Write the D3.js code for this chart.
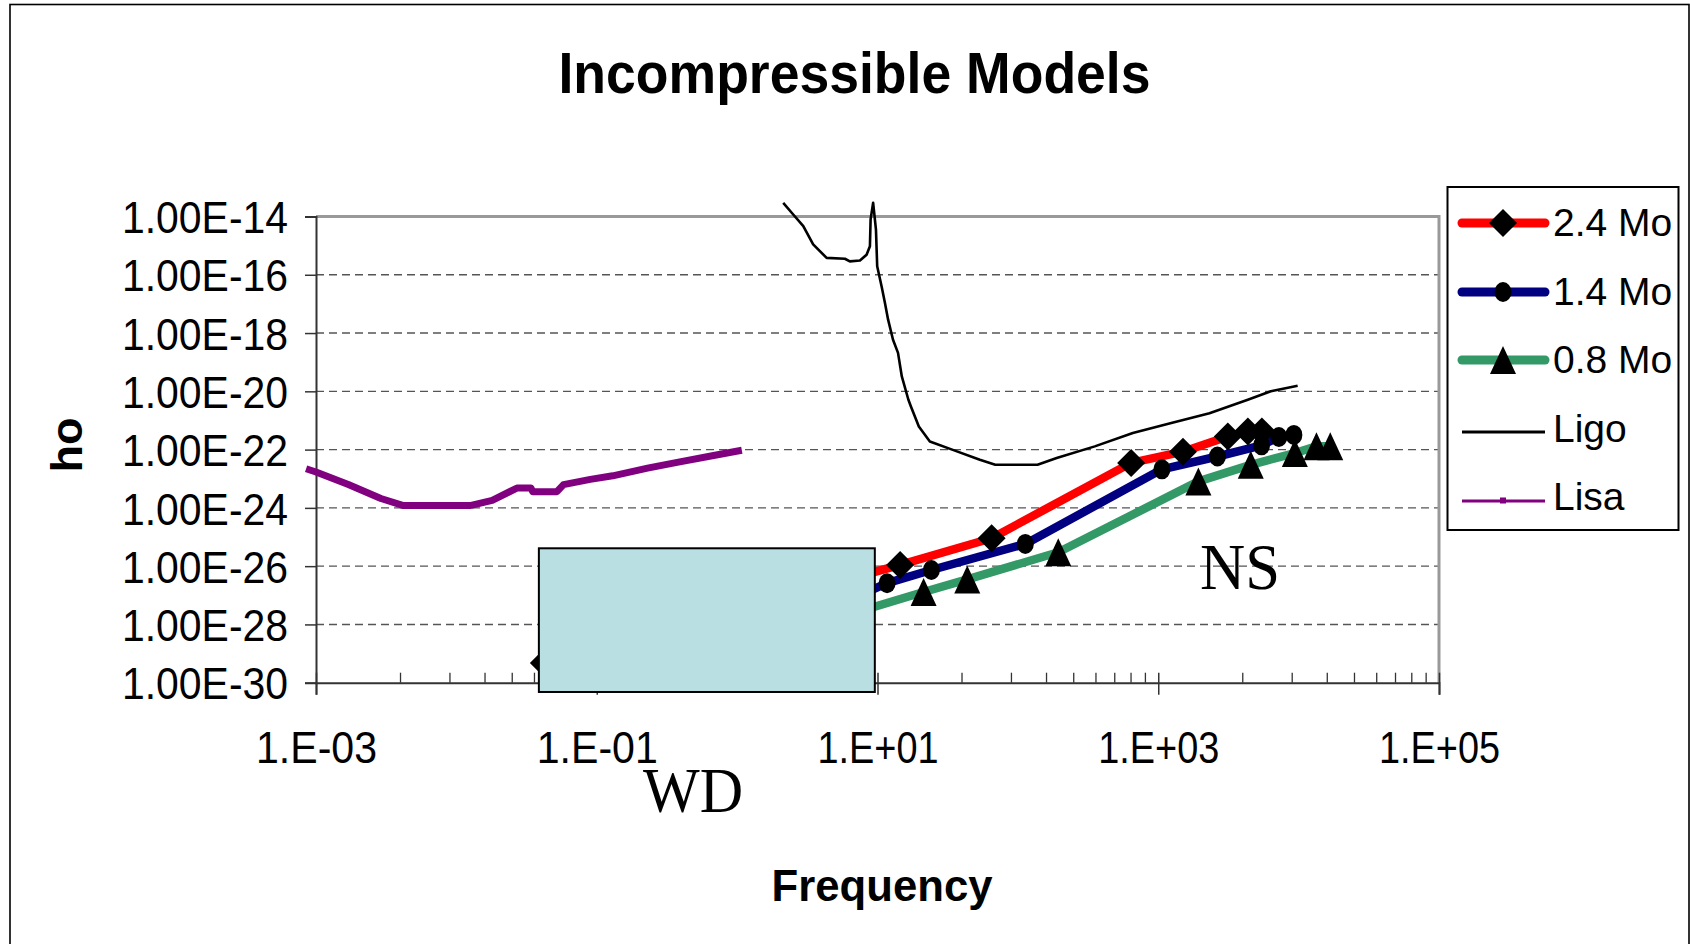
<!DOCTYPE html>
<html>
<head>
<meta charset="utf-8">
<script src="https://cdn.jsdelivr.net/npm/d3@7"></script>
<style>
  body { margin: 0; background: #fff; }
  text { font-family: "Liberation Sans", Arial, sans-serif; fill: #000; }
</style>
</head>
<body>
<svg width="1690" height="944"></svg>
<script>

// axis ticks
var xTicks = [1e-3, 1e-1, 1e1, 1e3, 1e5];
var xTickLabels = ["1.E-03", "1.E-01", "1.E+01", "1.E+03", "1.E+05"];
var xMinorSteps = [4, 9, 16, 25, 36, 49, 64, 81];
var yTicks = [1e-14, 1e-16, 1e-18, 1e-20, 1e-22, 1e-24, 1e-26, 1e-28, 1e-30];
var yTickLabels = ["1.00E-14", "1.00E-16", "1.00E-18", "1.00E-20", "1.00E-22",
                   "1.00E-24", "1.00E-26", "1.00E-28", "1.00E-30"];

// incompressible models (frequency, ho)
var freq24 = [0.042, 14.5, 65, 641, 1500, 3130, 4350, 5470];
var h24    = [4.7e-30, 1.1e-26, 9.1e-26, 3.5e-23, 8.5e-23, 2.8e-22, 4.2e-22, 4.2e-22];
var freq14 = [2.0, 11.7, 24.2, 113, 1062, 2640, 5445, 7230, 9250];
var h14    = [6.0e-29, 2.6e-27, 7.4e-27, 5.8e-26, 2.1e-23, 5.8e-23, 1.4e-22, 2.7e-22, 3.2e-22];
var freq08 = [2.0, 21.3, 43.6, 194, 1932, 4560, 9400, 13400, 16800];
var h08    = [4.2e-29, 1.3e-27, 3.5e-27, 3.0e-26, 8.1e-24, 3.0e-23, 7.6e-23, 1.3e-22, 1.3e-22];

// detector curves
var ligoFreq = [2.13, 2.51, 2.96, 3.48, 4.34, 5.86, 6.35, 7.50, 8.36, 8.83, 8.93, 9.31, 9.75, 9.95,
                10.7, 11.3, 11.9, 12.9, 14.0, 14.9, 16.6, 17.3, 19.7, 23.6, 34.4, 53.6, 69.0,
                138, 189, 353, 659, 1239, 2317, 4345, 6339, 9840];
var ligoH    = [2.95e-14, 1.17e-14, 4.68e-15, 1.10e-15, 3.80e-16, 3.55e-16, 2.88e-16, 3.09e-16,
                4.90e-16, 9.55e-16, 7.94e-15, 2.95e-14, 3.55e-15, 1.95e-16, 3.98e-17, 1.07e-17,
                2.88e-18, 5.89e-19, 2.09e-19, 3.24e-20, 5.13e-21, 3.02e-21, 6.17e-22, 1.91e-22,
                9.77e-23, 4.47e-23, 3.02e-23, 3.02e-23, 5.13e-23, 1.29e-22, 3.72e-22, 8.13e-22,
                1.78e-21, 5.13e-21, 1.0e-20, 1.55e-20];
var lisaFreq = [8.5e-4, 1.0e-3, 1.7e-3, 2.9e-3, 4.2e-3, 1.25e-2, 1.8e-2, 2.7e-2, 3.4e-2, 3.5e-2,
                5.2e-2, 5.8e-2, 9.0e-2, 0.13, 0.23, 0.39, 0.68, 1.08];
var lisaH    = [2.2e-23, 1.7e-23, 6.3e-24, 2.1e-24, 1.2e-24, 1.2e-24, 1.8e-24, 4.8e-24, 4.8e-24,
                3.6e-24, 3.6e-24, 6.3e-24, 9.5e-24, 1.26e-23, 2.3e-23, 3.8e-23, 6.3e-23, 9.5e-23];

// white dwarf region drawn over the chart
var wdFreq = [0.0387, 9.57];
var wdH = [4.8e-31, 4.1e-26];

var svg = d3.select("svg");

var x = d3.scaleLog().domain([1e-3, 1e5]).range([316, 1439]);
var y = d3.scaleLog().domain([1e-30, 1e-14]).range([682.7, 216.5]);

function zip(f, h) { return f.map(function(d, i) { return [d, h[i]]; }); }

var series = [
  { name: "2.4 Mo", color: "#ff0000", width: 8.5, marker: "diamond", data: zip(freq24, h24) },
  { name: "1.4 Mo", color: "#000080", width: 8.5, marker: "circle",  data: zip(freq14, h14) },
  { name: "0.8 Mo", color: "#339966", width: 8.5, marker: "triangle", data: zip(freq08, h08) }
];

// outer frame
svg.append("rect")
    .attr("x", 10).attr("y", 4.5).attr("width", 1679).attr("height", 960)
    .attr("fill", "#fff").attr("stroke", "#000").attr("stroke-width", 1.6);

// gridlines
svg.append("g").selectAll("line")
  .data(yTicks.slice(1, -1))
  .enter().append("line")
    .attr("x1", x.range()[0]).attr("x2", x.range()[1])
    .attr("y1", function(d) { return y(d); }).attr("y2", function(d) { return y(d); })
    .attr("stroke", "#555").attr("stroke-width", 1.4)
    .attr("stroke-dasharray", "8,5");

// plot border (top / right)
svg.append("path")
    .attr("d", "M" + x.range()[0] + "," + y.range()[1] + "H" + x.range()[1] + "V" + y.range()[0])
    .attr("fill", "none").attr("stroke", "#999").attr("stroke-width", 3);

// y axis
var yAxis = svg.append("g")
    .attr("transform", "translate(" + x.range()[0] + ",0)")
    .call(d3.axisLeft(y).tickValues(yTicks).tickSize(11).tickPadding(17)
      .tickFormat(function(d, i) { return yTickLabels[i]; }));
yAxis.select(".domain").attr("stroke", "#333").attr("stroke-width", 2);
yAxis.selectAll(".tick line").attr("stroke", "#333").attr("stroke-width", 1.5);
yAxis.selectAll(".tick text")
    .attr("font-size", 45).attr("font-family", "Liberation Sans, Arial, sans-serif")
    .attr("dy", "0.36em")
    .attr("textLength", 166).attr("lengthAdjust", "spacingAndGlyphs");

// x axis
var xAxis = svg.append("g")
    .attr("transform", "translate(0," + y.range()[0] + ")")
    .call(d3.axisBottom(x).tickValues(xTicks).tickSize(12)
      .tickFormat(function(d, i) { return xTickLabels[i]; }));
xAxis.select(".domain").attr("stroke", "#333").attr("stroke-width", 2);
xAxis.selectAll(".tick line").attr("y1", -10).attr("stroke", "#333").attr("stroke-width", 1.5);
xAxis.selectAll(".tick text")
    .attr("font-size", 44).attr("font-family", "Liberation Sans, Arial, sans-serif")
    .attr("y", 80).attr("dy", null)
    .attr("textLength", 121).attr("lengthAdjust", "spacingAndGlyphs");

var minor = [];
xTicks.slice(0, -1).forEach(function(t) {
  xMinorSteps.forEach(function(m) { minor.push(t * m); });
});
xAxis.selectAll(".minor")
  .data(minor)
  .enter().append("line")
    .attr("class", "minor")
    .attr("x1", function(d) { return x(d); }).attr("x2", function(d) { return x(d); })
    .attr("y1", 0).attr("y2", -10)
    .attr("stroke", "#333").attr("stroke-width", 1.3);

var line = d3.line()
    .x(function(d) { return x(d[0]); })
    .y(function(d) { return y(d[1]); });

// Lisa
svg.append("path")
    .attr("d", line(zip(lisaFreq, lisaH)))
    .attr("fill", "none").attr("stroke", "#800080").attr("stroke-width", 7)
    .attr("stroke-linejoin", "round");

// Ligo
svg.append("path")
    .attr("d", line(zip(ligoFreq, ligoH)))
    .attr("fill", "none").attr("stroke", "#000").attr("stroke-width", 2.6)
    .attr("stroke-linejoin", "round");

// markers
function markerPath(type) {
  if (type == "diamond") return "M0,-14L14,0L0,14L-14,0Z";
  if (type == "triangle") return "M0,-14L13,14L-13,14Z";
  return "M-8.5,0A8.5,10 0 1,0 8.5,0A8.5,10 0 1,0 -8.5,0Z";
}

series.forEach(function(s) {
  svg.append("path")
      .attr("d", line(s.data))
      .attr("fill", "none").attr("stroke", s.color).attr("stroke-width", s.width)
      .attr("stroke-linejoin", "round");
});
series.forEach(function(s) {
  svg.append("g").selectAll("path")
    .data(s.data)
    .enter().append("path")
      .attr("transform", function(d) { return "translate(" + x(d[0]) + "," + y(d[1]) + ")"; })
      .attr("d", markerPath(s.marker))
      .attr("fill", "#000");
});

// WD box
svg.append("rect")
    .attr("x", x(wdFreq[0])).attr("y", y(wdH[1]))
    .attr("width", x(wdFreq[1]) - x(wdFreq[0]))
    .attr("height", y(wdH[0]) - y(wdH[1]))
    .attr("fill", "#b9dfe2").attr("stroke", "#000").attr("stroke-width", 2);

// annotations
svg.append("text")
    .attr("x", 643).attr("y", 812)
    .style("font-family", "Liberation Serif, Times New Roman, serif")
    .attr("font-size", 63)
    .attr("textLength", 100).attr("lengthAdjust", "spacingAndGlyphs")
    .text("WD");

svg.append("text")
    .attr("x", 1200).attr("y", 589)
    .style("font-family", "Liberation Serif, Times New Roman, serif")
    .attr("font-size", 65)
    .attr("textLength", 80).attr("lengthAdjust", "spacingAndGlyphs")
    .text("NS");

// title and axis titles
svg.append("text")
    .attr("x", 854.5).attr("y", 93)
    .attr("text-anchor", "middle")
    .attr("font-size", 58).attr("font-weight", "bold")
    .attr("textLength", 592).attr("lengthAdjust", "spacingAndGlyphs")
    .text("Incompressible Models");

svg.append("text")
    .attr("x", 882).attr("y", 901)
    .attr("text-anchor", "middle")
    .attr("font-size", 45).attr("font-weight", "bold")
    .attr("textLength", 221).attr("lengthAdjust", "spacingAndGlyphs")
    .text("Frequency");

svg.append("text")
    .attr("transform", "translate(82,445) rotate(-90)")
    .attr("text-anchor", "middle")
    .attr("font-size", 45).attr("font-weight", "bold")
    .text("ho");

// legend
var legend = svg.append("g");
legend.append("rect")
    .attr("x", 1447.5).attr("y", 187).attr("width", 231).attr("height", 343)
    .attr("fill", "#fff").attr("stroke", "#000").attr("stroke-width", 2);

var legendItems = [
  { name: "2.4 Mo", color: "#ff0000", width: 9, marker: "diamond", cap: "round" },
  { name: "1.4 Mo", color: "#000080", width: 9, marker: "circle", cap: "round" },
  { name: "0.8 Mo", color: "#339966", width: 9, marker: "triangle", cap: "round" },
  { name: "Ligo", color: "#000", width: 3, marker: null, cap: "butt" },
  { name: "Lisa", color: "#800080", width: 3, marker: "square", cap: "butt" }
];
var legendLineY = [223, 292, 360, 432, 501];

legendItems.forEach(function(d, i) {
  var ly = legendLineY[i];
  legend.append("line")
      .attr("x1", 1462).attr("x2", 1545).attr("y1", ly).attr("y2", ly)
      .attr("stroke", d.color).attr("stroke-width", d.width).attr("stroke-linecap", d.cap);
  if (d.marker == "square") {
    legend.append("rect")
        .attr("x", 1500).attr("y", ly - 3.5).attr("width", 6).attr("height", 6)
        .attr("fill", d.color);
  } else if (d.marker) {
    legend.append("path")
        .attr("transform", "translate(1503," + ly + ")")
        .attr("d", markerPath(d.marker))
        .attr("fill", "#000");
  }
  legend.append("text")
      .attr("x", 1553).attr("y", 236 + i * 68.5)
      .attr("font-size", 39)
      .text(d.name);
});

</script>
</body>
</html>
